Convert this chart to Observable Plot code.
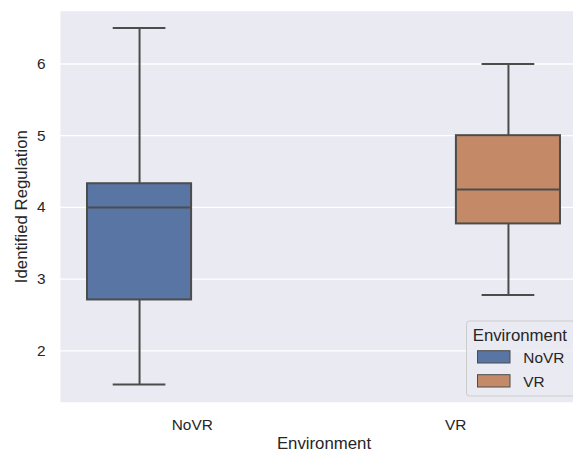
<!DOCTYPE html>
<html>
<head>
<meta charset="utf-8">
<script src="https://cdn.jsdelivr.net/npm/d3@7"></script>
<script src="https://cdn.jsdelivr.net/npm/@observablehq/plot@0.6"></script>
<style>
  html, body { margin: 0; padding: 0; background: #ffffff; overflow: hidden; }
  #chart { position: relative; width: 573px; height: 452px; overflow: hidden; }
  #chart svg { max-width: none !important; width: 587px !important; height: 452px !important; display: block; }
</style>
</head>
<body>
<div id="chart"></div>
<script>
// ---- data ----
const categories = ["NoVR", "VR"];
const whiskerLow = [1.53, 2.78];
const q1 = [2.71, 3.77];
const median = [4.0, 4.25];
const q3 = [4.33, 5.0];
const whiskerHigh = [6.5, 6.0];
const yTicks = [2, 3, 4, 5, 6];
const colors = ["#5875a4", "#c48a68"];
const xLabel = "Environment";
const yLabel = "Identified Regulation";
const legendTitle = "Environment";

// ---- build table (seaborn-style hue dodge) ----
const boxHalf = 0.1975, capHalf = 0.1;
const rows = categories.map((c, i) => {
  const pos = i + (i - 0.5) * 0.4;
  return { cat: c, pos, lo: whiskerLow[i], q1: q1[i], med: median[i], q3: q3[i], hi: whiskerHigh[i], color: colors[i] };
});

const edge = "#4c4c4c";
const textColor = "#262626";
const font = "'Liberation Sans', Arial, sans-serif";

const svg = Plot.plot({
  width: 587,
  height: 452,
  marginLeft: 60,
  marginRight: 0,
  marginTop: 10.7,
  marginBottom: 50.3,
  style: { fontFamily: font, fontSize: "15.4px", color: textColor, background: "#ffffff", overflow: "visible", maxWidth: "none" },
  x: { domain: [-0.5, 1.5] },
  y: { domain: [1.285, 6.735] },
  marks: [
    Plot.frame({ fill: "#eaeaf2", stroke: null }),
    Plot.ruleY(yTicks, { y: d => d, stroke: "#ffffff", strokeWidth: 1.4 }),
    // whiskers
    Plot.ruleX(rows, { x: "pos", y1: "lo", y2: "q1", stroke: edge, strokeWidth: 2 }),
    Plot.ruleX(rows, { x: "pos", y1: "q3", y2: "hi", stroke: edge, strokeWidth: 2 }),
    // caps
    Plot.ruleY(rows, { y: "lo", x1: d => d.pos - capHalf, x2: d => d.pos + capHalf, stroke: edge, strokeWidth: 2 }),
    Plot.ruleY(rows, { y: "hi", x1: d => d.pos - capHalf, x2: d => d.pos + capHalf, stroke: edge, strokeWidth: 2 }),
    // boxes
    Plot.rect(rows, { x1: d => d.pos - boxHalf, x2: d => d.pos + boxHalf, y1: "q1", y2: "q3", fill: "color", stroke: edge, strokeWidth: 2 }),
    // medians
    Plot.ruleY(rows, { y: "med", x1: d => d.pos - boxHalf, x2: d => d.pos + boxHalf, stroke: edge, strokeWidth: 2 }),
    // axes
    Plot.axisY({ ticks: yTicks, tickFormat: d3.format("d"), tickSize: 0, tickPadding: 15, label: null, fontSize: 15.4, fill: textColor }),
    Plot.axisX({ ticks: [0, 1], tickFormat: i => categories[i], tickSize: 0, tickPadding: 16.7, label: null, fontSize: 15.4, fill: textColor }),
    Plot.text([xLabel], { text: d => d, frameAnchor: "bottom", dy: 46.6, lineAnchor: "bottom", textAnchor: "middle", fontSize: 16.8, fill: textColor }),
    Plot.text([yLabel], { text: d => d, frameAnchor: "left", dx: -33.3, rotate: -90, lineAnchor: "bottom", textAnchor: "middle", fontSize: 16.8, fill: textColor })
  ]
});

// ---- legend (drawn into the same SVG) ----
const g = d3.select(svg).append("g")
  .attr("font-family", font).attr("fill", textColor).attr("text-anchor", "start");
g.append("rect")
  .attr("x", 466.5).attr("y", 321).attr("width", 115).attr("height", 75)
  .attr("rx", 3).attr("fill", "#eaeaf2").attr("fill-opacity", 0.8)
  .attr("stroke", "#cccccc").attr("stroke-width", 1);
g.append("text").attr("x", 472.7).attr("y", 340.7).attr("font-size", 16.8).text(legendTitle);
categories.forEach((c, i) => {
  const top = 350.7 + i * 24;
  g.append("rect").attr("x", 477.5).attr("y", top).attr("width", 32.5).attr("height", 12.3)
    .attr("fill", colors[i]).attr("stroke", edge).attr("stroke-width", 1);
  g.append("text").attr("x", 523.3).attr("y", top + 12.6).attr("font-size", 15.4).text(c);
});

document.getElementById("chart").appendChild(svg);
</script>
</body>
</html>
